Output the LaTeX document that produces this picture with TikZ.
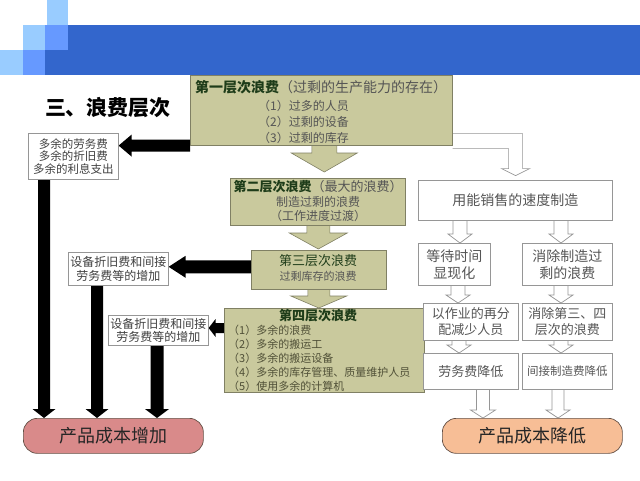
\documentclass[tikz,border=0pt]{standalone}
\usepackage{fontspec}
\setmainfont{Noto Sans CJK SC}
\usetikzlibrary{calc}
\pgfdeclarelayer{bg}
\pgfsetlayers{bg,main}
\definecolor{dkblue}{RGB}{51,102,204}
\definecolor{mdblue}{RGB}{102,153,255}
\definecolor{ltblue}{RGB}{153,204,255}
\definecolor{khaki}{RGB}{201,201,157}
\definecolor{khakiline}{RGB}{128,128,100}
\definecolor{dgreen}{RGB}{30,60,25}
\definecolor{txtgrey}{RGB}{85,85,85}
\definecolor{itemtxt}{RGB}{80,80,55}
\definecolor{boxline}{RGB}{150,150,150}
\definecolor{pinkred}{RGB}{217,138,138}
\definecolor{peach}{RGB}{247,190,150}
\definecolor{roundline}{RGB}{100,80,70}
% #1 style, #2 start, #3 tip, #4 half shaft, #5 half head, #6 head length
\newcommand\blockdown[6]{%
  \filldraw[#1] ($(#2)+(-#4,0)$) -- ($(#3)+(-#4,-#6)$) -- ($(#3)+(-#5,-#6)$) -- (#3)
    -- ($(#3)+(#5,-#6)$) -- ($(#3)+(#4,-#6)$) -- ($(#2)+(#4,0)$) -- cycle;}
\newcommand\blockleft[6]{%
  \filldraw[#1] ($(#2)+(0,-#4)$) -- ($(#3)+(#6,-#4)$) -- ($(#3)+(#6,-#5)$) -- (#3)
    -- ($(#3)+(#6,#5)$) -- ($(#3)+(#6,#4)$) -- ($(#2)+(0,#4)$) -- cycle;}
\begin{document}
\begin{tikzpicture}[x=1pt,y=-1pt,
  kbox/.style={draw=khakiline,fill=khaki,line width=0.6pt,anchor=north west,inner sep=0pt},
  wbox/.style={draw=boxline,fill=white,line width=0.6pt,anchor=north west,inner sep=0pt,align=center,text=txtgrey},
  lbox/.style={draw=boxline,fill=white,line width=0.6pt,anchor=north west,inner sep=0pt,align=center,text=black!75},
  rbox/.style={draw=roundline,line width=0.7pt,anchor=north west,inner sep=0pt,rounded corners=14pt,text=black!85},
  txt/.style={inner sep=0pt},
  karrow/.style={fill=khaki,draw=khakiline,line width=0.6pt},
  harrow/.style={fill=white,draw=boxline,line width=0.7pt},
  blk/.style={fill=black,draw=none}]
\useasboundingbox (0,0) rectangle (640,480);
% header
\fill[dkblue] (68,25) rectangle (640,50);
\fill[dkblue] (45,50) rectangle (640,75);
\fill[ltblue] (47,0) rectangle (68,25);
\fill[ltblue] (23,25) rectangle (45,50);
\fill[mdblue] (45,25) rectangle (68,50);
\fill[ltblue] (0,50) rectangle (23,75);
\fill[mdblue] (23,50) rectangle (45,75);
\node[txt,font=\fontsize{21}{24}\selectfont\bfseries] (title) at (108,108) {三、浪费层次};
% central khaki boxes
\node[kbox,minimum width=262pt,minimum height=70pt] (box1) at (190,75) {};
\node[txt,font=\fontsize{14}{16}\selectfont] (b1t) at (321,87) {{\bfseries\color{dgreen}第一层次浪费}{\color{txtgrey}（过剩的生产能力的存在）}};
\node[txt,anchor=west,font=\fontsize{12}{14}\selectfont,text=txtgrey] (b1a) at (258,106) {（1）过多的人员};
\node[txt,anchor=west,font=\fontsize{12}{14}\selectfont,text=txtgrey] (b1b) at (258,122) {（2）过剩的设备};
\node[txt,anchor=west,font=\fontsize{12}{14}\selectfont,text=txtgrey] (b1c) at (258,138) {（3）过剩的库存};
\node[kbox,minimum width=175pt,minimum height=47pt] (box2) at (230,178) {};
\node[txt,font=\fontsize{13}{15}\selectfont] (b2t) at (318,187) {{\bfseries\color{dgreen}第二层次浪费}{\color{txtgrey}（最大的浪费）}};
\node[txt,font=\fontsize{12}{14}\selectfont,text=txtgrey] (b2a) at (318,202) {制造过剩的浪费};
\node[txt,font=\fontsize{12}{14}\selectfont,text=txtgrey] (b2b) at (318,216) {（工作进度过渡）};
\node[kbox,minimum width=135pt,minimum height=39pt] (box3) at (251,250) {};
\node[txt,font=\fontsize{13}{15}\selectfont,text=dgreen] (b3t) at (318,261) {第三层次浪费};
\node[txt,font=\fontsize{11}{13}\selectfont,text=txtgrey] (b3a) at (318,276) {过剩库存的浪费};
\node[kbox,minimum width=200pt,minimum height=84pt] (box4) at (224,308) {};
\node[txt,font=\fontsize{13}{15}\selectfont\bfseries,text=dgreen] (b4t) at (318,316) {第四层次浪费};
\node[txt,anchor=west,font=\fontsize{11}{13}\selectfont,text=itemtxt] (b4a) at (228,330) {（1）多余的浪费};
\node[txt,anchor=west,font=\fontsize{11}{13}\selectfont,text=itemtxt] (b4b) at (228,344) {（2）多余的搬运工};
\node[txt,anchor=west,font=\fontsize{11}{13}\selectfont,text=itemtxt] (b4c) at (228,358) {（3）多余的搬运设备};
\node[txt,anchor=west,font=\fontsize{11}{13}\selectfont,text=itemtxt] (b4d) at (228,372) {（4）多余的库存管理、质量维护人员};
\node[txt,anchor=west,font=\fontsize{11}{13}\selectfont,text=itemtxt] (b4e) at (228,386) {（5）使用多余的计算机};
% left boxes
\node[lbox,minimum width=90pt,minimum height=46pt,font=\fontsize{11.5}{12.5}\selectfont] (L1) at (28,133) {多余的劳务费\\多余的折旧费\\多余的利息支出};
\node[lbox,minimum width=100pt,minimum height=33pt,font=\fontsize{12}{13.5}\selectfont] (L2) at (68,252) {设备折旧费和间接\\劳务费等的增加};
\node[lbox,minimum width=100pt,minimum height=30pt,font=\fontsize{12}{13.5}\selectfont] (L3) at (108,315) {设备折旧费和间接\\劳务费等的增加};
% right boxes
\node[wbox,minimum width=194pt,minimum height=40pt,font=\fontsize{14}{16}\selectfont] (R1) at (418,180) {用能销售的速度制造};
\node[wbox,minimum width=72pt,minimum height=42pt,font=\fontsize{14}{17}\selectfont] (R2a) at (418,243) {等待时间\\显现化};
\node[wbox,minimum width=90pt,minimum height=42pt,font=\fontsize{14}{17}\selectfont] (R2b) at (522,243) {消除制造过\\剩的浪费};
\node[wbox,minimum width=95pt,minimum height=37pt,font=\fontsize{13}{16}\selectfont] (R3a) at (423,303) {以作业的再分\\配减少人员};
\node[wbox,minimum width=90pt,minimum height=37pt,font=\fontsize{13}{16}\selectfont] (R3b) at (522,303) {消除第三、四\\层次的浪费};
\node[wbox,minimum width=95pt,minimum height=36pt,font=\fontsize{13}{15}\selectfont] (R4a) at (423,353) {劳务费降低};
\node[wbox,minimum width=90pt,minimum height=36pt,font=\fontsize{11.5}{13}\selectfont] (R4b) at (522,353) {间接制造费降低};
% bottom
\node[rbox,fill=pinkred,minimum width=180pt,minimum height=35pt,font=\fontsize{18}{20}\selectfont] (BL) at (23,418) {产品成本增加};
\node[rbox,fill=peach,minimum width=180pt,minimum height=35pt,font=\fontsize{18}{20}\selectfont] (BR) at (442,418) {产品成本降低};
% arrows
\begin{pgfonlayer}{bg}
\coordinate (a1s) at ($(box1.south)+(3,-2)$);
\coordinate (a1e) at ($(a1s |- box2.north)+(0,-6)$);
\blockdown{karrow}{a1s}{a1e}{12.5}{33}{19}
\coordinate (a2s) at ($(box2.south)+(0.5,-2)$);
\coordinate (a2e) at ($(a2s |- box3.north)+(0,-1)$);
\blockdown{karrow}{a2s}{a2e}{11.5}{29}{16}
\coordinate (a3s) at ($(box3.south)+(0,-2)$);
\coordinate (a3e) at (a3s |- box4.north);
\blockdown{karrow}{a3s}{a3e}{11}{28}{12}
% black arrows
\coordinate (k1s) at (box1.south west);
\coordinate (k1e) at (L1.east |- k1s);
\blockleft{blk}{k1s}{k1e}{6}{11}{13}
\coordinate (k2s) at ($(box3.west)+(0,-3)$);
\coordinate (k2e) at (L2.east |- k2s);
\blockleft{blk}{k2s}{k2e}{6.5}{11}{17}
\coordinate (k3s) at ($(box4.north west)+(0,20)$);
\coordinate (k3e) at (L3.east |- k3s);
\blockleft{blk}{k3s}{k3e}{5}{9}{7}
\coordinate (v1s) at ($(L1.south west)+(16,0)$);
\coordinate (v1e) at (v1s |- BL.north);
\blockdown{blk}{v1s}{v1e}{6}{11.5}{9}
\coordinate (v2s) at ($(L2.south west)+(29,0)$);
\coordinate (v2e) at (v2s |- BL.north);
\blockdown{blk}{v2s}{v2e}{6}{11.5}{9}
\coordinate (v3s) at ($(L3.south west)+(49,0)$);
\coordinate (v3e) at (v3s |- BL.north);
\blockdown{blk}{v3s}{v3e}{6.5}{12}{9}
% hollow elbow arrow
\filldraw[harrow] ($(box1.south east)+(0,-12)$) -- ($(box1.south east)+(70,-12)$) -- ($(box1.south east)+(70,23)$)
  -- ($(box1.south east)+(77,23)$) -- ($(box1.south east)+(63,30)$) -- ($(box1.south east)+(49,23)$)
  -- ($(box1.south east)+(56,23)$) -- ($(box1.south east)+(56,3)$) -- ($(box1.south east)+(0,3)$);
% hollow down arrows
\coordinate (h1s) at ($(R1.south west)+(42,0)$);
\coordinate (h1e) at (h1s |- R2a.north);
\blockdown{harrow}{h1s}{h1e}{7}{12}{9}
\coordinate (h2s) at ($(R1.south west)+(143,0)$);
\coordinate (h2e) at (h2s |- R2b.north);
\blockdown{harrow}{h2s}{h2e}{7}{12}{9}
\coordinate (h3s) at ($(R2a.south west)+(40,0)$);
\coordinate (h3e) at (h3s |- R3a.north);
\blockdown{harrow}{h3s}{h3e}{7}{12}{8}
\coordinate (h4s) at ($(R2b.south west)+(39,0)$);
\coordinate (h4e) at (h4s |- R3b.north);
\blockdown{harrow}{h4s}{h4e}{7}{12}{8}
\coordinate (h5s) at ($(R3a.south west)+(36,0)$);
\coordinate (h5e) at (h5s |- R4a.north);
\blockdown{harrow}{h5s}{h5e}{7}{12}{8}
\coordinate (h6s) at ($(R3b.south west)+(39,0)$);
\coordinate (h6e) at (h6s |- R4b.north);
\blockdown{harrow}{h6s}{h6e}{7}{12}{8}
\coordinate (h7s) at ($(R4a.south west)+(60,0)$);
\coordinate (h7e) at (h7s |- BR.north);
\blockdown{harrow}{h7s}{h7e}{6.5}{12.5}{8}
\coordinate (h8s) at ($(R4b.south west)+(36,0)$);
\coordinate (h8e) at (h8s |- BR.north);
\blockdown{harrow}{h8s}{h8e}{6}{12}{8}
\end{pgfonlayer}
\end{tikzpicture}
\end{document}
